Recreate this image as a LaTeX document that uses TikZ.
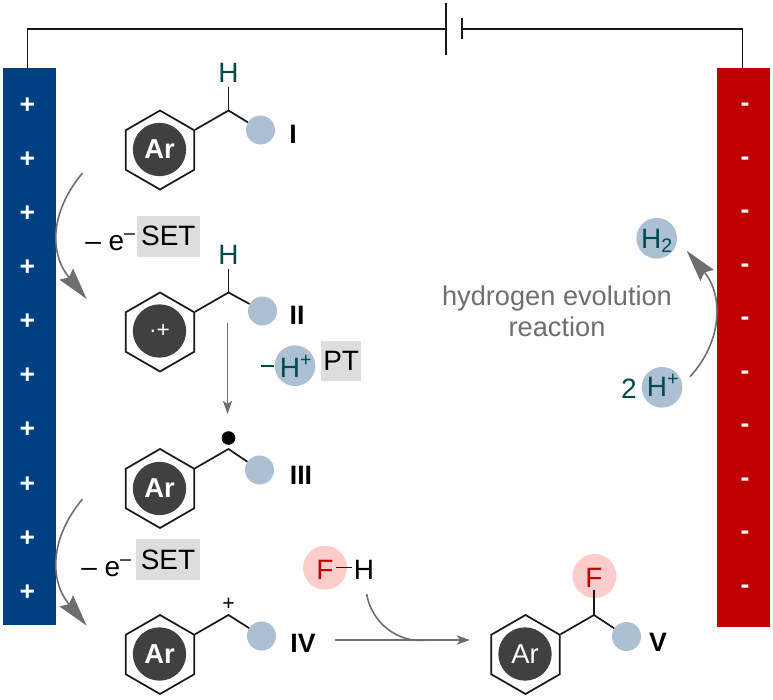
\documentclass[tikz,border=0pt]{standalone}
\usepackage{fontspec}
\setmainfont{Liberation Sans}
\usetikzlibrary{arrows.meta,shapes.geometric}
\definecolor{anodeblue}{HTML}{004082}
\definecolor{cathodered}{HTML}{C00000}
\definecolor{steel}{HTML}{ADBFD3}
\definecolor{arcore}{HTML}{404040}
\definecolor{tealtxt}{HTML}{004A4A}
\definecolor{fpink}{HTML}{FFCCCC}
\definecolor{arrowgray}{HTML}{6E6E6E}
\definecolor{boxgray}{HTML}{DDDDDD}
\tikzset{
  txt/.style={font=\fontsize{21}{25}\selectfont,inner sep=0pt,text height=15pt,text depth=0pt,anchor=center},
  lbl/.style={txt,font=\fontsize{20}{24}\selectfont\bfseries},
  wire/.style={line width=1.2pt,draw=black!90},
  bond/.style={line width=1.3pt,draw=black!90},
  ring/.style={regular polygon,regular polygon sides=6,regular polygon rotate=30,draw=black!90,line width=1.3pt,minimum size=59.25pt,inner sep=0pt},
  core/.style={circle,fill=arcore,text=white,minimum size=40pt,inner sep=0pt,font=\fontsize{20.5}{24}\selectfont\bfseries},
  blob/.style={circle,fill=steel,minimum size=21.75pt,inner sep=0pt},
  hcirc/.style={circle,fill=steel,minimum size=30.5pt,inner sep=0pt},
  fcirc/.style={circle,fill=fpink,minimum size=33pt,inner sep=0pt},
  tagbox/.style={fill=boxgray,inner sep=0pt,minimum width=47.5pt,minimum height=30.5pt,font=\fontsize{21}{25}\selectfont},
  bigcurve/.style={line width=1.2pt,draw=arrowgray,-{Stealth[length=24pt,width=13pt,inset=3pt,fill=arrowgray]}},
  thin arrow/.style={line width=1.2pt,draw=arrowgray,-{Stealth[length=10pt,width=7pt,inset=2.5pt,fill=arrowgray]}},
  sign/.style={text=white,font=\fontsize{20}{24}\selectfont\bfseries,inner sep=0pt}
}
\begin{document}
\begin{tikzpicture}[x=0.75pt,y=-0.75pt]
\useasboundingbox (0,0) rectangle (773,699);
% electrodes
\fill[anodeblue] (3.3,68) rectangle (55.5,625);
\fill[cathodered] (717.3,68) rectangle (769.5,627);
\foreach \i/\y in {1/105.5,2/160,3/213.5,4/267.5,5/321.5,6/376,7/430,8/484.5,9/539,10/593}
  \node[sign] (p\i) at (27.5,\y) {+};
\foreach \i/\y in {1/107,2/161,3/214.5,4/268,5/321.5,6/375,7/428.5,8/482,9/535.5,10/589}
  \node[sign] (m\i) at (745,\y) {-};
% circuit
\coordinate (aTop) at (27.5,68);
\coordinate (aCorner) at (27.5,29);
\coordinate (bL) at (446,29);
\coordinate (bLt) at (446,3);
\coordinate (bLb) at (446,55);
\coordinate (bR) at (462,29);
\coordinate (bRt) at (462,18);
\coordinate (bRb) at (462,39.5);
\coordinate (cCorner) at (742.5,29);
\coordinate (cTop) at (742.5,68);
\draw[wire] (aTop) -- (aCorner) -- (bL);
\draw[wire] (bLt) -- (bLb);
\draw[wire] (bRt) -- (bRb);
\draw[wire] (bR) -- (cCorner) -- (cTop);
% I
\node[ring] (r1) at (160,150) {};
\node[core] (c1) at (159.5,149.5) {Ar};
\coordinate (k1) at (228.5,110.5);
\node[blob] (b1) at (260.5,130) {};
\node[txt,text=tealtxt] (h1) at (228.5,72) {H};
\coordinate (h1b) at (228.5,87);
\draw[bond] (r1.30) -- (k1) -- (b1);
\draw[bond] (k1) -- (h1b);
\node[lbl] (l1) at (293,133) {I};
% II
\node[ring] (r2) at (160,332) {};
\node[core,font=\fontsize{17}{20}\selectfont] (c2) at (159.5,331) {·+};
\coordinate (k2) at (228.5,292.5);
\node[blob] (b2) at (262.5,311) {};
\node[txt,text=tealtxt] (h2) at (228.5,254) {H};
\coordinate (h2b) at (228.5,268.5);
\draw[bond] (r2.30) -- (k2) -- (b2);
\draw[bond] (k2) -- (h2b);
\node[lbl] (l2) at (297,314) {II};
% III
\node[ring] (r3) at (160,488.5) {};
\node[core] (c3) at (159.5,488.5) {Ar};
\coordinate (k3) at (228.5,449);
\node[blob] (b3) at (259.5,470) {};
\node[circle,fill=black,minimum size=10.2pt,inner sep=0pt] (d3) at (228.5,438) {};
\draw[bond] (r3.30) -- (k3) -- (b3);
\node[lbl] (l3) at (301,474) {III};
% IV
\node[ring] (r4) at (160,654.5) {};
\node[core] (c4) at (159.5,654) {Ar};
\coordinate (k4) at (228.5,615);
\node[blob] (b4) at (261.5,636) {};
\node[font=\fontsize{16}{18}\selectfont,inner sep=0pt] (q4) at (228.5,604) {+};
\draw[bond] (r4.30) -- (k4) -- (b4);
\node[lbl] (l4) at (303,642) {IV};
% V
\node[ring] (r5) at (525.5,654.5) {};
\node[core,font=\fontsize{20.5}{24}\selectfont] (c5) at (525,654) {Ar};
\coordinate (k5) at (594,615);
\node[blob] (b5) at (626.5,636.5) {};
\node[fcirc] (f5) at (594.5,576) {};
\node[txt,text=cathodered] (ft5) at (594,577) {F};
\coordinate (f5b) at (594,590);
\draw[bond] (r5.30) -- (k5) -- (b5);
\draw[bond] (k5) -- (f5b);
\node[lbl] (l5) at (658,641) {V};
% SET steps
\coordinate (s1a) at (82.5,173);
\coordinate (s1b) at (86.7,299);
\draw[bigcurve] (s1a) .. controls (50,212) and (49,253) .. (s1b);
\node[txt,anchor=west] (e1) at (85,240) {– e\textsuperscript{–}};
\node[tagbox] (set1) at (168.3,236.2) {SET};
\coordinate (s2a) at (82.5,499);
\coordinate (s2b) at (86.7,625.7);
\draw[bigcurve] (s2a) .. controls (50,538) and (49,580) .. (s2b);
\node[txt,anchor=west] (e2) at (81,566) {– e\textsuperscript{–}};
\node[tagbox] (set2) at (168,559.5) {SET};
% PT step
\coordinate (pa) at (227.5,323);
\coordinate (pb) at (227.5,414);
\draw[thin arrow] (pa) -- (pb);
\node[hcirc] (hp) at (295,365.7) {};
\node[txt,text=tealtxt] (hpt) at (296,367) {H\textsuperscript{+}};
\coordinate (da) at (261,365.7);
\draw[line width=1.2pt,draw=tealtxt] (da) -- (hp.west);
\node[tagbox,minimum width=30.4pt] (pt) at (341.2,361) {PT};
% F-H
\node[fcirc] (fh) at (325,567.7) {};
\node[txt,text=cathodered] (ft) at (325,569) {F};
\node[txt] (ht) at (364,569) {H};
\coordinate (fha) at (335.5,567.5);
\coordinate (fhb) at (352,567.5);
\draw[bond] (fha) -- (fhb);
% IV to V
\coordinate (r4a) at (335,640);
\coordinate (r4b) at (470,640);
\draw[thin arrow] (r4a) -- (r4b);
\coordinate (fa) at (366.7,594);
\coordinate (fb) at (427,640);
\draw[line width=1.2pt,draw=arrowgray] (fa) .. controls (371,622) and (398,644) .. (fb);
% HER
\node[hcirc] (h2c) at (656.7,238.3) {};
\node[txt,text=tealtxt] (h2t) at (657,238) {H\textsubscript{2}};
\node[hcirc] (hpc) at (662,387.3) {};
\node[txt,text=tealtxt] (hpct) at (663,386) {H\textsuperscript{+}};
\node[txt,text=tealtxt] (two) at (629,388) {2};
\coordinate (ha) at (690,376.7);
\coordinate (hb) at (686.7,250.7);
\draw[bigcurve] (ha) .. controls (722,342) and (724,296) .. (hb);
\node[txt,text=arrowgray,align=center,text height=,text depth=,font=\fontsize{20.4}{23.3}\selectfont] (her) at (557,311) {hydrogen evolution\\reaction};
\end{tikzpicture}
\end{document}
